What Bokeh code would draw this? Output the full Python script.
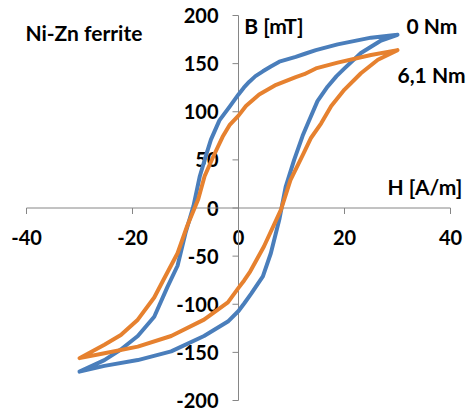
import math
from bokeh.plotting import figure
from bokeh.models import Range1d, Label
from bokeh.core.properties import value
from bokeh.embed import file_html
from bokeh.resources import INLINE

# ---- data ----
x_ticks = [-40, -20, 0, 20, 40]
y_ticks = [-200, -150, -100, -50, 0, 50, 100, 150, 200]

# 0 Nm (blue): descending branch then ascending branch
h0_down = [30, 25, 18.7, 14.6, 12.4, 10.8, 7.7, 6.1, 4.6, 3.2, 2, 1, 0, -1.7, -3.6, -5.2, -6,
           -7.3, -8.5, -10, -11.5, -13.4, -15.9, -19, -22.2, -25.3, -30]
b0_down = [180, 177, 170, 164, 160, 157, 152, 147, 142, 137, 131, 125, 118, 105, 91, 71, 57,
           33, 2, -26, -60, -82, -113, -133, -147, -158, -170]
h0_up = [-30, -25.3, -19, -12.7, -6.5, -2, 0, 1.1, 2.4, 4.6, 6.1, 7.7, 8.9, 10.5, 12.1,
         13.1, 14.9, 16.8, 18.5, 20, 23.1, 26.9, 30]
b0_up = [-170, -164, -158, -149, -133, -118, -107, -99, -89, -71, -47, -12, 22, 50, 75,
         88, 111, 126, 137, 145, 161, 174, 180]

# 6,1 Nm (orange)
h6_down = [30, 25, 18.7, 14.6, 12.4, 10.8, 7.1, 3.9, 1.4, 0, -1.7, -3, -4.8, -6.4, -7.6,
           -9.7, -11.5, -14.1, -15.9, -19, -22.2, -25.3, -30]
b6_down = [164, 159, 151, 145, 139, 136, 128, 118, 106, 96, 86, 74, 53, 33, 9,
           -19, -47, -74, -93, -116, -132, -142, -156]
h6_up = [-30, -25.3, -19, -12.7, -6.5, -2, 0, 1.1, 2.2, 4.8, 8, 9.8, 12.3, 13.7, 15.6,
         17.5, 20, 23.1, 26.3, 30]
b6_up = [-156, -151, -144, -133, -116, -98, -83, -75, -66, -40, -2, 29, 57, 73, 88,
         106, 123, 140, 154, 164]

FONT = "Lato"
TICK_FS = "20px"
LAB_FS = "21px"
AXIS_COLOR = "#868686"

# frame fills the whole canvas; data -40..40 spans px 26..450, 200..-200 spans px 15..400
px_per_x = 424 / 80.0
px_per_y = 385 / 400.0
xr = Range1d(x_ticks[0] - 26 / px_per_x, x_ticks[-1] + 26 / px_per_x)
yr = Range1d(y_ticks[0] - 14 / px_per_y, y_ticks[-1] + 15 / px_per_y)

p = figure(width=476, height=414, output_backend="svg", toolbar_location=None,
           x_range=xr, y_range=yr,
           min_border_left=0, min_border_right=0, min_border_top=0, min_border_bottom=0)
p.xaxis.visible = False
p.yaxis.visible = False
p.xgrid.visible = False
p.ygrid.visible = False
p.outline_line_color = None
p.background_fill_color = "white"
p.border_fill_color = "white"

# tick labels
p.text(x=x_ticks, y=[0] * len(x_ticks), text=[str(t) for t in x_ticks],
       text_font=value(FONT), text_font_style="bold", text_font_size=TICK_FS,
       text_align="center", text_baseline="middle", y_offset=29, text_color="black")
p.text(x=[0] * len(y_ticks), y=y_ticks, text=[str(t) for t in y_ticks],
       text_font=value(FONT), text_font_style="bold", text_font_size=TICK_FS,
       text_align="right", text_baseline="middle", x_offset=-20, text_color="black")

# axes through origin
p.segment(x0=[x_ticks[0]], y0=[0], x1=[x_ticks[-1]], y1=[0], line_color=AXIS_COLOR, line_width=1)
p.segment(x0=[0], y0=[y_ticks[0]], x1=[0], y1=[y_ticks[-1]], line_color=AXIS_COLOR, line_width=1)
p.ray(x=x_ticks, y=[0] * len(x_ticks), length=6, length_units="screen",
      angle=-math.pi / 2, line_color=AXIS_COLOR, line_width=1)
p.ray(x=[0] * len(y_ticks), y=y_ticks, length=6, length_units="screen",
      angle=math.pi, line_color=AXIS_COLOR, line_width=1)

# loops
p.line(h0_down + h0_up, b0_down + b0_up, line_color="#4A7EBB", line_width=4,
       line_join="round", line_cap="round")
p.line(h6_down + h6_up, b6_down + b6_up, line_color="#E6812F", line_width=4,
       line_join="round", line_cap="round")

def lab(x, y, t):
    p.add_layout(Label(x=x, y=y, text=t, text_font=FONT, text_font_style="bold",
                       text_font_size=LAB_FS, text_baseline="middle", text_align="left",
                       text_color="black"))

lab(-40.2, 182, "Ni-Zn ferrite")
lab(1.1, 190, "B [mT]")
lab(31.7, 190, "0 Nm")
lab(30.0, 139, "6,1 Nm")
lab(28.1, 22, "H [A/m]")

open("out.html", "w").write(file_html(p, INLINE))
